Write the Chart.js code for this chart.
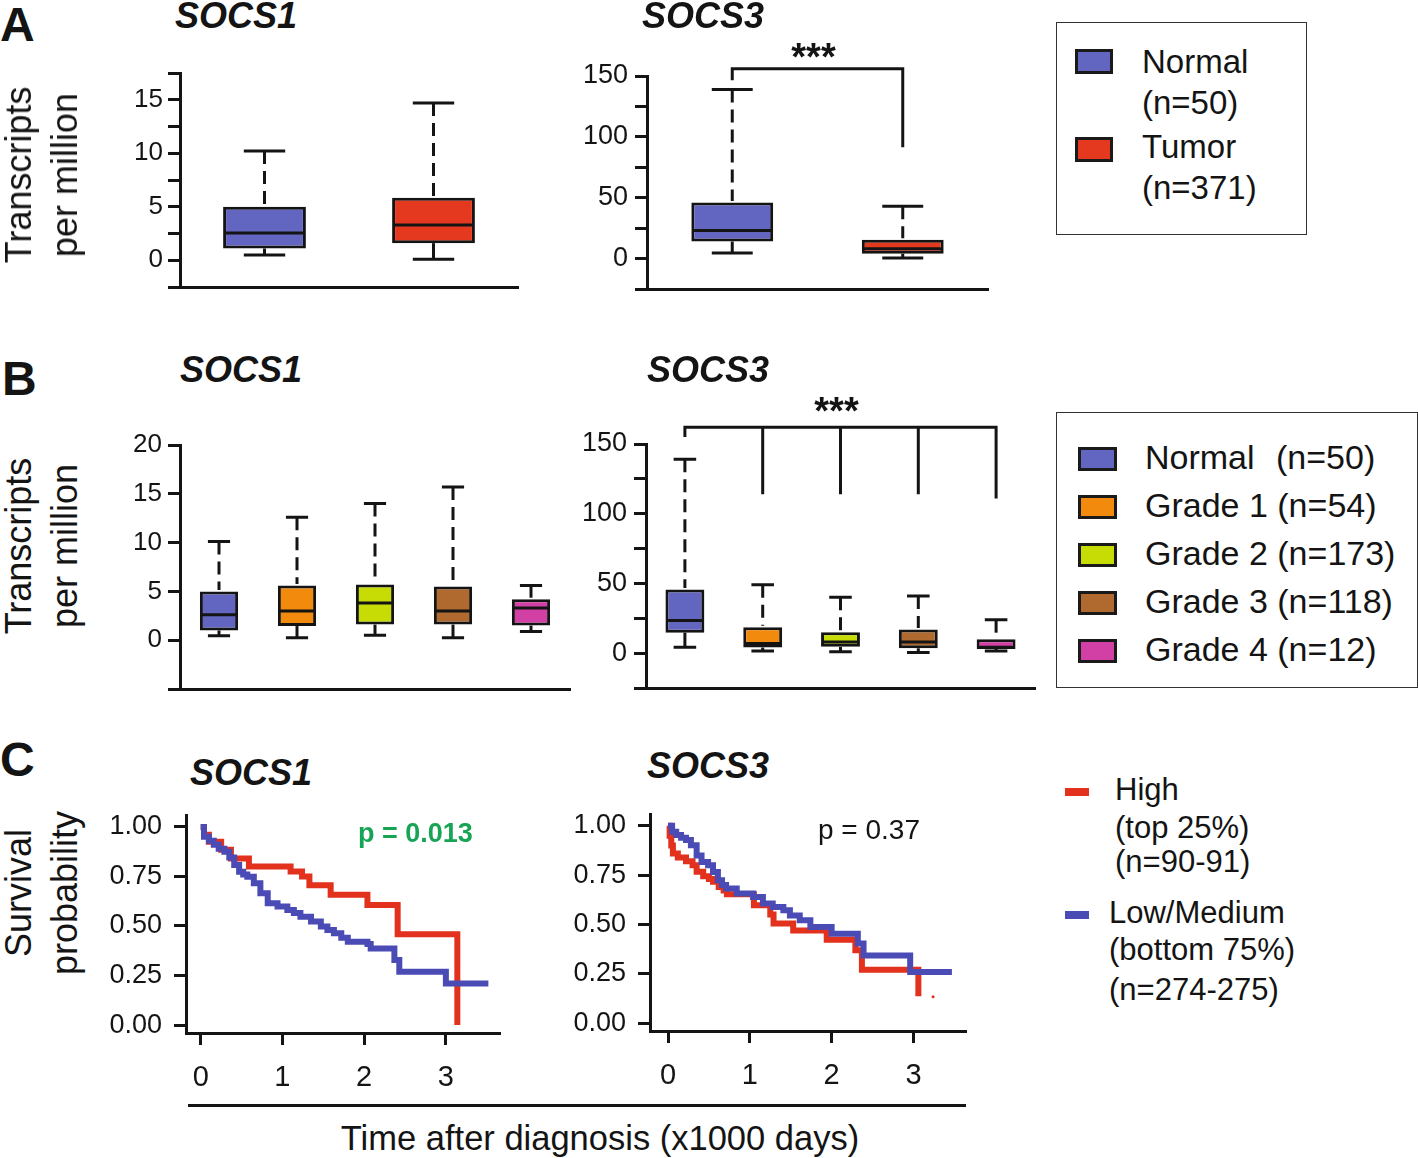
<!DOCTYPE html>
<html>
<head>
<meta charset="utf-8">
<title>SOCS1 / SOCS3</title>
<script src="https://cdn.jsdelivr.net/npm/chart.js@4.4.1/dist/chart.umd.min.js"></script>
<style>
html,body{margin:0;padding:0;background:#fff;}
#fig{position:relative;width:1418px;height:1158px;overflow:hidden;font-family:"Liberation Sans",Arial,Helvetica,sans-serif;color:#141414;}
#fig canvas{position:absolute;}
.t{position:absolute;white-space:pre;line-height:1;}
.lbox{position:absolute;border:1.5px solid #333;box-sizing:border-box;}
.sw{position:absolute;border:3px solid #1a1a1a;box-sizing:border-box;}
.dash{position:absolute;}
</style>
</head>
<body>
<div id="fig"></div>
<script>
// ================= DATA =================
const groupsA = ['Normal', 'Tumor'];
const groupsB = ['Normal', 'Grade 1', 'Grade 2', 'Grade 3', 'Grade 4'];

// Panel A - SOCS1 (transcripts per million)
const a1Low = [0.5, 0.1];
const a1Q1  = [1.1, 1.6];
const a1Med = [2.55, 3.3];
const a1Q3  = [5.0, 5.85];
const a1High= [10.2, 14.7];
const a1Ticks  = [-2.5, 0, 2.5, 5, 7.5, 10, 12.5, 15, 17.5];
const a1Labels = [0, 5, 10, 15];

// Panel A - SOCS3
const a3Low = [4.5, 0.5];
const a3Q1  = [14, 4];
const a3Med = [23, 8];
const a3Q3  = [46, 15.5];
const a3High= [139, 43];
const a3Ticks  = [-25, 0, 25, 50, 75, 100, 125, 150];
const a3Labels = [0, 50, 100, 150];
const a3BracketTop = 156, a3BracketLegs = [146.5, 91.5], a3Stars = 173;

// Panel B - SOCS1
const b1Low = [0.45, 0.25, 0.5, 0.25, 0.9];
const b1Q1  = [1.0, 1.45, 1.6, 1.6, 1.5];
const b1Med = [2.6, 3.0, 3.8, 3.0, 3.3];
const b1Q3  = [5.0, 5.6, 5.7, 5.5, 4.2];
const b1High= [10.1, 12.6, 14.0, 15.7, 5.6];
const b1Ticks  = [-5, 0, 5, 10, 15, 20];
const b1Labels = [0, 5, 10, 15, 20];

// Panel B - SOCS3
const b3Low = [4.3, 1.5, 1, 0.5, 1.5];
const b3Q1  = [14.7, 4, 4.5, 3.5, 3.0];
const b3Med = [23.5, 7, 8, 8, 4.2];
const b3Q3  = [45.6, 18.5, 15, 17, 10];
const b3High= [139, 49, 40, 41, 24];
const b3Ticks  = [-25, 0, 25, 50, 75, 100, 125, 150];
const b3Labels = [0, 50, 100, 150];
const b3BracketTop = 162, b3BracketLegs = [155, 114, 114, 114, 111], b3Stars = 180;

// Panel C - Kaplan-Meier, time in x1000 days
const c1HighT = [0, 0.04, 0.10, 0.25, 0.37, 0.59, 1.10, 1.24, 1.33, 1.59, 2.04, 2.41, 3.14];
const c1HighS = [1.0, 0.96, 0.925, 0.885, 0.84, 0.80, 0.775, 0.75, 0.705, 0.657, 0.606, 0.458, 0.0];
const c1LowT  = [0, 0.04, 0.10, 0.16, 0.22, 0.29, 0.35, 0.41, 0.47, 0.52, 0.57, 0.65, 0.73, 0.82, 0.94, 1.06, 1.14, 1.22, 1.35, 1.47, 1.55, 1.63, 1.72, 1.80, 2.04, 2.08, 2.37, 2.43, 3.0, 3.52];
const c1LowS  = [1.0, 0.95, 0.93, 0.91, 0.89, 0.875, 0.845, 0.808, 0.774, 0.76, 0.749, 0.716, 0.665, 0.615, 0.598, 0.581, 0.565, 0.547, 0.522, 0.497, 0.48, 0.463, 0.44, 0.421, 0.409, 0.387, 0.328, 0.269, 0.21, 0.21];

const c3HighT = [0, 0.02, 0.04, 0.06, 0.12, 0.22, 0.30, 0.35, 0.43, 0.50, 0.55, 0.62, 0.68, 0.72, 1.05, 1.25, 1.29, 1.53, 1.94, 2.29, 2.37, 3.06];
const c3HighS = [1.0, 0.95, 0.90, 0.86, 0.84, 0.82, 0.80, 0.767, 0.745, 0.73, 0.716, 0.69, 0.672, 0.653, 0.598, 0.55, 0.505, 0.47, 0.423, 0.369, 0.271, 0.136];
const c3LowT  = [0, 0.05, 0.10, 0.16, 0.22, 0.28, 0.35, 0.41, 0.49, 0.55, 0.61, 0.66, 0.71, 0.84, 1.04, 1.16, 1.28, 1.41, 1.49, 1.61, 1.74, 2.00, 2.32, 2.39, 2.96, 3.47];
const c3LowS  = [1.0, 0.97, 0.953, 0.94, 0.928, 0.902, 0.85, 0.817, 0.80, 0.766, 0.724, 0.70, 0.682, 0.657, 0.639, 0.606, 0.589, 0.572, 0.546, 0.521, 0.487, 0.453, 0.403, 0.343, 0.259, 0.259];
const c3DotT = [3.24], c3DotS = [0.133];

const kmXTicks = [0, 1, 2, 3];
const kmYTicks = [0, 0.25, 0.5, 0.75, 1.0];

// ================= STYLE =================
const FONT = '"Liberation Sans", Arial, Helvetica, sans-serif';
const INK = '#141414';
const colA = ['#6366c1', '#e5391f'];
const colB = ['#6366c1', '#f28a0e', '#c6dc04', '#b0692e', '#d23fa5'];
const RED = '#e2311d', BLUE = '#4a4bb5', GREEN = '#17a455';
Chart.defaults.font.family = FONT;
Chart.defaults.color = INK;

const fig = document.getElementById('fig');

function mkCanvas(left, top, w, h) {
  const c = document.createElement('canvas');
  c.width = w; c.height = h;
  c.style.left = left + 'px'; c.style.top = top + 'px';
  c.style.width = w + 'px'; c.style.height = h + 'px';
  fig.appendChild(c);
  return c;
}
function txt(s, x, base, fs, o = {}) {
  const d = document.createElement('div');
  d.className = 't';
  d.textContent = s;
  d.style.left = x + 'px';
  d.style.top = (base - 0.8465 * fs).toFixed(1) + 'px';
  d.style.fontSize = fs + 'px';
  if (o.b) d.style.fontWeight = 'bold';
  if (o.i) d.style.fontStyle = 'italic';
  if (o.c) d.style.color = o.c;
  if (o.center) d.style.transform = 'translateX(-50%)';
  fig.appendChild(d);
}
function vtxt(lines, cx, cy, fs, lh) {
  const d = document.createElement('div');
  d.style.cssText = `position:absolute;left:${cx}px;top:${cy}px;font-size:${fs}px;line-height:${lh}px;text-align:center;white-space:nowrap;transform:translate(-50%,-50%) rotate(-90deg);`;
  lines.forEach(l => { const s = document.createElement('div'); s.textContent = l; d.appendChild(s); });
  fig.appendChild(d);
}
function el(cls, x, y, w, h, bg) {
  const d = document.createElement('div');
  d.className = cls;
  d.style.left = x + 'px'; d.style.top = y + 'px';
  d.style.width = w + 'px'; d.style.height = h + 'px';
  if (bg) d.style.background = bg;
  fig.appendChild(d);
}
const fixW = w => s => { s.width = w; s.paddingTop = 0; s.paddingBottom = 0; s.paddingLeft = 0; s.paddingRight = 0; };
const fixH = h => s => { s.height = h; s.paddingTop = 0; s.paddingBottom = 0; s.paddingLeft = 0; s.paddingRight = 0; };

function boxPlugin(st, style, br) {
  return {
    id: 'boxWhiskers',
    afterDatasetsDraw(chart) {
      const ctx = chart.ctx, ys = chart.scales.y, meta = chart.getDatasetMeta(0);
      ctx.save();
      ctx.strokeStyle = INK; ctx.lineWidth = 3; ctx.lineCap = 'butt';
      meta.data.forEach((bar, i) => {
        const x = bar.x, w = bar.width, cw = w * style.cap;
        const yq1 = ys.getPixelForValue(st.q1[i]), yq3 = ys.getPixelForValue(st.q3[i]);
        const ylo = ys.getPixelForValue(st.lo[i]), yhi = ys.getPixelForValue(st.hi[i]);
        const ym = ys.getPixelForValue(st.med[i]);
        ctx.setLineDash(style.dash);
        ctx.beginPath(); ctx.moveTo(x, yhi); ctx.lineTo(x, yq3 - 1.5); ctx.stroke();
        ctx.setLineDash([]);
        ctx.beginPath(); ctx.moveTo(x, yq1); ctx.lineTo(x, ylo); ctx.stroke();
        ctx.beginPath();
        ctx.moveTo(x - cw / 2, yhi); ctx.lineTo(x + cw / 2, yhi);
        ctx.moveTo(x - cw / 2, ylo); ctx.lineTo(x + cw / 2, ylo);
        ctx.stroke();
        ctx.beginPath(); ctx.moveTo(x - w / 2 + 2, ym); ctx.lineTo(x + w / 2 - 2, ym); ctx.stroke();
      });
      if (br) {
        const top = ys.getPixelForValue(br.top);
        const xs = meta.data.map(b => b.x);
        const n = xs.length - 1;
        ctx.beginPath();
        ctx.moveTo(xs[0], ys.getPixelForValue(br.legs[0]));
        ctx.lineTo(xs[0], top);
        ctx.lineTo(xs[n], top);
        ctx.lineTo(xs[n], ys.getPixelForValue(br.legs[br.legs.length - 1]));
        for (let k = 1; k < n; k++) {
          ctx.moveTo(xs[k], top); ctx.lineTo(xs[k], ys.getPixelForValue(br.legs[k]));
        }
        ctx.stroke();
        ctx.fillStyle = INK;
        ctx.font = 'bold 38px ' + FONT;
        ctx.textAlign = 'center'; ctx.textBaseline = 'alphabetic';
        ctx.fillText('***', (xs[0] + xs[n]) / 2 - 4, ys.getPixelForValue(br.stars) + 0.57 * 38);
      }
      ctx.restore();
    }
  };
}

function boxChart(c) {
  const cv = mkCanvas(c.left, c.top, c.w, c.h);
  return new Chart(cv, {
    type: 'bar',
    data: {
      labels: c.cats,
      datasets: [{
        data: c.cats.map((_, i) => [c.st.q1[i], c.st.q3[i]]),
        backgroundColor: c.colors,
        borderColor: INK, borderWidth: 3, borderSkipped: false,
        barPercentage: c.barPct, categoryPercentage: 1
      }]
    },
    options: {
      responsive: false, animation: false, events: [],
      layout: { padding: { top: c.padTop, right: c.padR, left: 0, bottom: 0 }, autoPadding: false },
      plugins: { legend: { display: false }, tooltip: { enabled: false }, title: { display: false } },
      scales: {
        x: {
          grid: { display: false }, ticks: { display: false },
          border: { display: true, color: INK, width: 3 },
          afterFit: fixH(c.xh)
        },
        y: {
          min: c.ticks[0], max: c.ticks[c.ticks.length - 1],
          afterBuildTicks: s => { s.ticks = c.ticks.map(v => ({ value: v })); },
          ticks: { autoSkip: false, padding: c.tickPad, color: INK, font: { size: c.fs },
                   callback: v => c.labels.includes(v) ? String(v) : '' },
          grid: { drawOnChartArea: false, drawTicks: true, tickLength: 12, color: INK, lineWidth: 3 },
          border: { display: true, color: INK, width: 3 },
          afterFit: fixW(c.yw)
        }
      }
    },
    plugins: [boxPlugin(c.st, { cap: c.cap, dash: [13, 7] }, c.br)]
  });
}

function kmChart(c) {
  const cv = mkCanvas(c.left, c.top, c.w, c.h);
  const ds = [
    { data: c.lowT.map((t, i) => ({ x: t, y: c.lowS[i] })), borderColor: BLUE },
    { data: c.highT.map((t, i) => ({ x: t, y: c.highS[i] })), borderColor: RED }
  ].map(d => Object.assign(d, { borderWidth: 6, stepped: 'before', pointRadius: 0, fill: false, borderCapStyle: 'butt', borderJoinStyle: 'miter' }));
  if (c.dotT) ds.push({ data: c.dotT.map((t, i) => ({ x: t, y: c.dotS[i] })), showLine: false, pointRadius: 1.5, pointBackgroundColor: RED, pointBorderWidth: 0 });
  return new Chart(cv, {
    type: 'line',
    data: { datasets: ds },
    options: {
      responsive: false, animation: false, events: [],
      layout: { padding: { top: c.padTop, right: c.padR, left: 0, bottom: 0 }, autoPadding: false },
      plugins: { legend: { display: false }, tooltip: { enabled: false } },
      scales: {
        x: {
          type: 'linear', min: c.xmin, max: c.xmax,
          afterBuildTicks: s => { s.ticks = kmXTicks.map(v => ({ value: v })); },
          ticks: { autoSkip: false, padding: 16, color: INK, font: { size: 29 }, maxRotation: 0, callback: v => String(v) },
          grid: { drawOnChartArea: false, drawTicks: true, tickLength: 12, color: INK, lineWidth: 3 },
          border: { display: true, color: INK, width: 3 },
          afterFit: fixH(c.xh)
        },
        y: {
          type: 'linear', min: -0.04, max: 1.06,
          afterBuildTicks: s => { s.ticks = kmYTicks.map(v => ({ value: v })); },
          ticks: { autoSkip: false, padding: 12, color: INK, font: { size: 27 }, callback: v => v.toFixed(2) },
          grid: { drawOnChartArea: false, drawTicks: true, tickLength: 12, color: INK, lineWidth: 3 },
          border: { display: true, color: INK, width: 3 },
          afterFit: fixW(c.yw)
        }
      }
    }
  });
}

// ================= CHARTS =================
boxChart({ left: 80, top: 60, w: 450, h: 240, yw: 100, padTop: 13, padR: 12, xh: 13,
  cats: groupsA, colors: colA, barPct: 0.49, cap: 0.5, fs: 26, tickPad: 5,
  ticks: a1Ticks, labels: a1Labels,
  st: { lo: a1Low, q1: a1Q1, med: a1Med, q3: a1Q3, hi: a1High } });

boxChart({ left: 560, top: 20, w: 440, h: 282, yw: 87, padTop: 56, padR: 12, xh: 13,
  cats: groupsA, colors: colA, barPct: 0.48, cap: 0.5, fs: 27, tickPad: 7,
  ticks: a3Ticks, labels: a3Labels,
  st: { lo: a3Low, q1: a3Q1, med: a3Med, q3: a3Q3, hi: a3High },
  br: { top: a3BracketTop, legs: a3BracketLegs, stars: a3Stars } });

boxChart({ left: 90, top: 425, w: 493, h: 275, yw: 90, padTop: 20, padR: 13, xh: 11,
  cats: groupsB, colors: colB, barPct: 0.49, cap: 0.58, fs: 26, tickPad: 6,
  ticks: b1Ticks, labels: b1Labels,
  st: { lo: b1Low, q1: b1Q1, med: b1Med, q3: b1Q3, hi: b1High } });

boxChart({ left: 560, top: 370, w: 485, h: 330, yw: 86, padTop: 74, padR: 10, xh: 12,
  cats: groupsB, colors: colB, barPct: 0.5, cap: 0.58, fs: 27, tickPad: 7,
  ticks: b3Ticks, labels: b3Labels,
  st: { lo: b3Low, q1: b3Q1, med: b3Med, q3: b3Q3, hi: b3High },
  br: { top: b3BracketTop, legs: b3BracketLegs, stars: b3Stars } });

kmChart({ left: 90, top: 800, w: 420, h: 300, yw: 96, padTop: 15, padR: 11, xh: 67,
  xmin: -0.18, xmax: 3.65, highT: c1HighT, highS: c1HighS, lowT: c1LowT, lowS: c1LowS });

kmChart({ left: 560, top: 795, w: 415, h: 305, yw: 90, padTop: 19, padR: 10, xh: 69,
  xmin: -0.22, xmax: 3.63, highT: c3HighT, highS: c3HighS, lowT: c3LowT, lowS: c3LowS,
  dotT: c3DotT, dotS: c3DotS });

// ================= TEXT / LEGENDS =================
// panel letters
txt('A', 0, 42, 48, { b: true });
txt('B', 2, 396, 48, { b: true });
txt('C', 0, 777, 48, { b: true });

// titles
txt('SOCS1', 175, 28, 36, { b: true, i: true });
txt('SOCS3', 642, 28, 36, { b: true, i: true });
txt('SOCS1', 180, 382, 36, { b: true, i: true });
txt('SOCS3', 647, 382, 36, { b: true, i: true });
txt('SOCS1', 190, 785, 36, { b: true, i: true });
txt('SOCS3', 647, 778, 36, { b: true, i: true });

// y-axis titles
vtxt(['Transcripts', 'per million'], 41.5, 175, 36, 46);
vtxt(['Transcripts', 'per million'], 41.5, 546, 36, 46);
vtxt(['Survival', 'probability'], 41.5, 893, 36, 46);

// p values
txt('p = 0.013', 358, 843, 27, { b: true, c: GREEN });
txt('p = 0.37', 818, 840, 28);

// common x title
el('dash', 188, 1104, 778, 3, INK);
txt('Time after diagnosis (x1000 days)', 600, 1150, 34.5, { center: true });

// legend A
el('lbox', 1056, 22, 251, 213);
el('sw', 1075, 49, 38, 25, colA[0]);
el('sw', 1075, 137, 38, 25, colA[1]);
txt('Normal', 1142, 73, 33);
txt('(n=50)', 1142, 114, 33);
txt('Tumor', 1142, 158, 33);
txt('(n=371)', 1142, 199, 33);

// legend B
el('lbox', 1056, 412, 362, 276);
const legB = [['Normal', '(n=50)'], ['Grade 1 (n=54)'], ['Grade 2 (n=173)'], ['Grade 3 (n=118)'], ['Grade 4 (n=12)']];
const legBTop = [447, 495, 543, 591, 639];
legB.forEach((l, i) => {
  el('sw', 1078, legBTop[i], 39, 24, colB[i]);
  txt(l[0], 1145, legBTop[i] + 22, 34);
  if (l[1]) txt(l[1], 1276, legBTop[i] + 22, 34);
});

// legend C
el('dash', 1065, 788, 24, 8, RED);
el('dash', 1065, 911, 24, 8, BLUE);
txt('High', 1115, 800, 31);
txt('(top 25%)', 1115, 838, 31);
txt('(n=90-91)', 1115, 872, 31);
txt('Low/Medium', 1109, 923, 31);
txt('(bottom 75%)', 1109, 960, 31);
txt('(n=274-275)', 1109, 1000, 31);
</script>
</body>
</html>
